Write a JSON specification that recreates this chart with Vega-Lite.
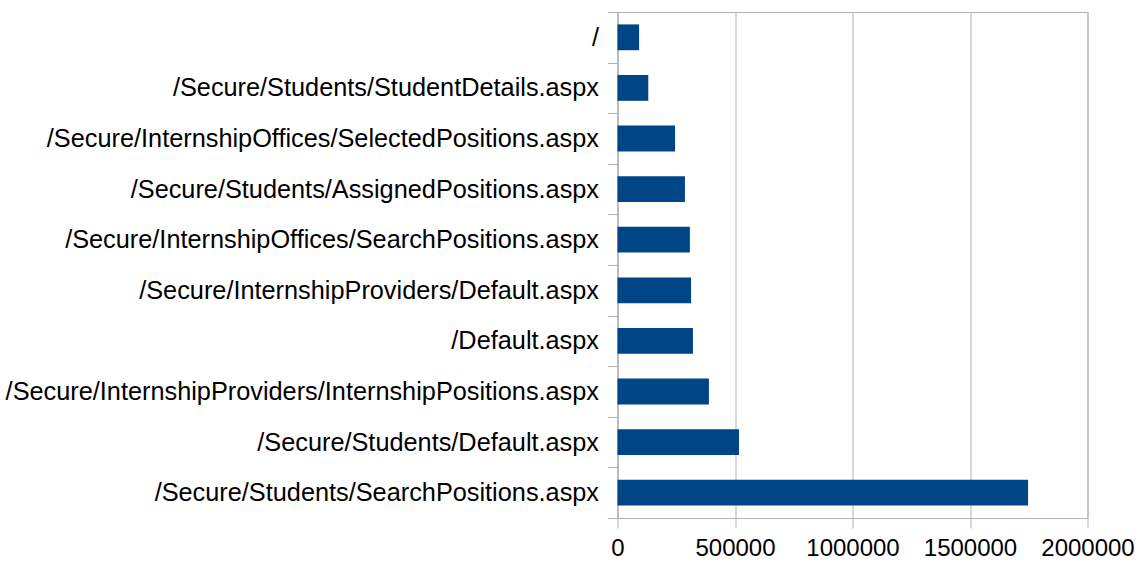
{
  "$schema": "https://vega.github.io/schema/vega-lite/v6.json",
  "autosize": {"type": "none"},
  "padding": {"left": 617.5, "top": 12, "right": 51.5, "bottom": 45},
  "width": 470,
  "height": 506,
  "background": "white",
  "config": {
    "font": "Liberation Sans",
    "view": {"stroke": "#b3b3b3", "strokeWidth": 1}
  },
  "data": {
    "values": [
      {"page": "/", "hits": 92000},
      {"page": "/Secure/Students/StudentDetails.aspx", "hits": 131000},
      {"page": "/Secure/InternshipOffices/SelectedPositions.aspx", "hits": 245000},
      {"page": "/Secure/Students/AssignedPositions.aspx", "hits": 287000},
      {"page": "/Secure/InternshipOffices/SearchPositions.aspx", "hits": 308000},
      {"page": "/Secure/InternshipProviders/Default.aspx", "hits": 313000},
      {"page": "/Default.aspx", "hits": 321000},
      {"page": "/Secure/InternshipProviders/InternshipPositions.aspx", "hits": 389000},
      {"page": "/Secure/Students/Default.aspx", "hits": 517000},
      {"page": "/Secure/Students/SearchPositions.aspx", "hits": 1747000}
    ]
  },
  "mark": {"type": "bar", "color": "#004586", "height": {"band": 0.51}},
  "encoding": {
    "y": {
      "field": "page",
      "type": "nominal",
      "sort": null,
      "scale": {"paddingInner": 0, "paddingOuter": 0},
      "axis": {
        "title": null,
        "tickBand": "extent",
        "tickSize": 10,
        "tickColor": "#b3b3b3",
        "domainColor": "#b3b3b3",
        "labelFontSize": 25.3,
        "labelColor": "#000000",
        "labelLimit": 800,
        "labelPadding": 9,
        "grid": false
      }
    },
    "x": {
      "field": "hits",
      "type": "quantitative",
      "scale": {"domain": [0, 2000000], "nice": false},
      "axis": {
        "title": null,
        "values": [0, 500000, 1000000, 1500000, 2000000],
        "format": "d",
        "tickSize": 10,
        "tickColor": "#b3b3b3",
        "domainColor": "#b3b3b3",
        "gridColor": "#b3b3b3",
        "grid": true,
        "labelFontSize": 24,
        "labelColor": "#000000",
        "labelPadding": 8,
        "labelFlush": false,
        "labelOverlap": false
      }
    }
  }
}
